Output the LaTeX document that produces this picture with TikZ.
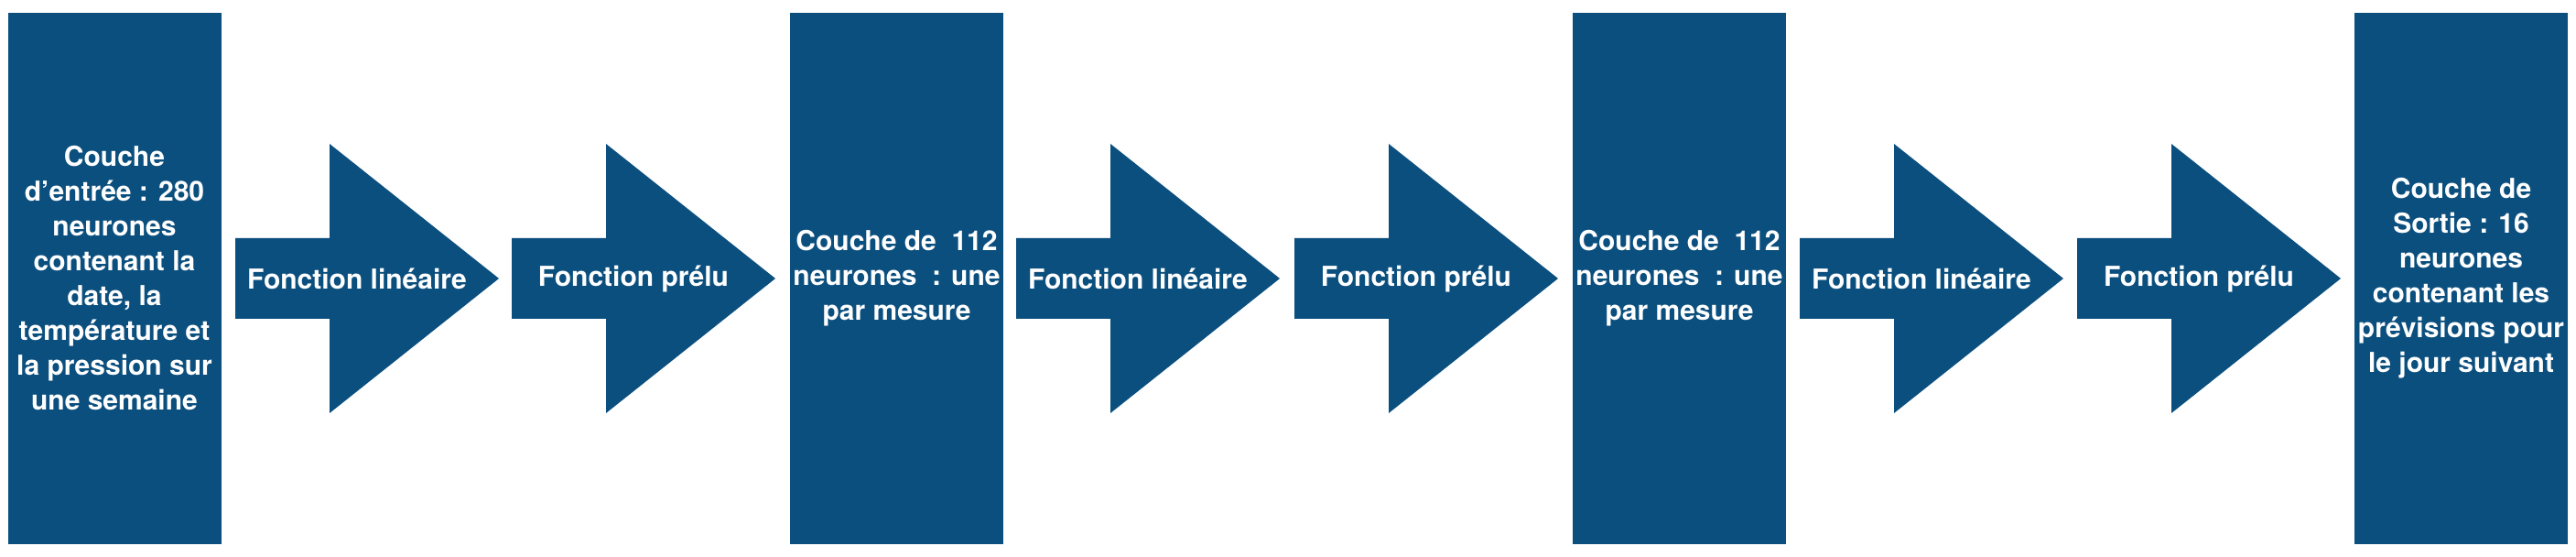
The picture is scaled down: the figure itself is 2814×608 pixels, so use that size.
\documentclass[tikz,border=0pt]{standalone}
\usepackage{fontspec}
\setmainfont{TeX Gyre Heros}
\definecolor{layerblue}{RGB}{11,79,126}
\begin{document}
\begin{tikzpicture}[x=0.25pt,y=-0.25pt,
  layer/.style={fill=layerblue, text=white, inner sep=0pt, minimum width=58.25pt, minimum height=145pt, align=center, font=\bfseries\fontsize{7.5}{9.5}\selectfont},
  arrowshape/.style={fill=layerblue},
  fnlabel/.style={text=white, inner sep=0pt, font=\bfseries\fontsize{7.5}{9}\selectfont}]
\useasboundingbox[fill=white] (0,0) rectangle (2814,608);
\node[layer] (in) at (125,304) {Couche\\d’entrée : 280\\neurones\\contenant la\\date, la\\température et\\la pression sur\\une semaine};
\node[layer] (h1) at (979.5,304) {Couche de~ 112\\neurones~ : une\\par mesure};
\node[layer] (h2) at (1834.5,304) {Couche de~ 112\\neurones~ : une\\par mesure};
\node[layer] (out) at (2688.5,304) {Couche de\\Sortie : 16\\neurones\\contenant les\\prévisions pour\\le jour suivant};
\foreach \x/\lab/\nm in {257/Fonction linéaire/a1, 559/Fonction prélu/a2, 1110/Fonction linéaire/a3, 1414/Fonction prélu/a4, 1966/Fonction linéaire/a5, 2269/Fonction prélu/a6} {
  \fill[arrowshape] (\x,260) -- ++(103,0) -- ++(0,-103) -- ++(185,147) -- ++(-185,147) -- ++(0,-103) -- ++(-103,0) -- cycle;
  \node[fnlabel] (\nm) at (\x+133,304) {\lab};
}
\end{tikzpicture}
\end{document}
